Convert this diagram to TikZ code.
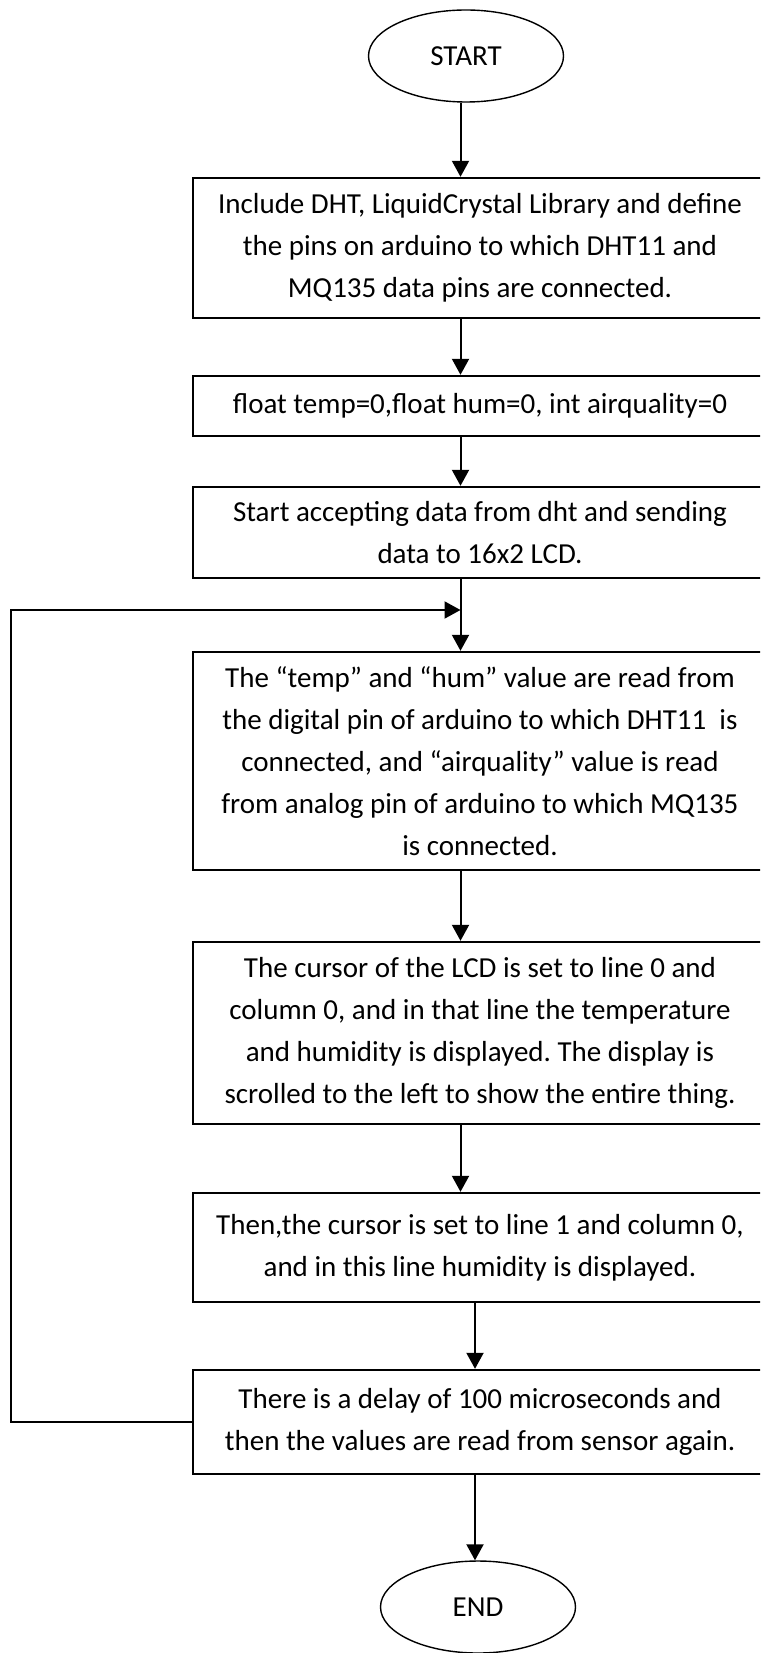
\documentclass[tikz,border=0pt]{standalone}
\usepackage{fontspec}
\setmainfont{Carlito}
\frenchspacing
\usetikzlibrary{arrows.meta,shapes.geometric}
\tikzset{
  stepbox/.style={draw,line width=1.2pt,minimum width=287pt,inner sep=0pt,align=center},
  terminal/.style={draw,ellipse,line width=0.7pt,minimum width=97.5pt,minimum height=46pt,inner sep=0pt},
  flow/.style={line width=1pt,-{Triangle[length=8pt,width=8.5pt]}}
}
\begin{document}
\begin{tikzpicture}[x=0.5pt,y=-0.5pt,font=\fontsize{14.5}{21}\selectfont]
        \clip (0,0) rectangle (760,1653);
        %% Terminals
        \node[terminal] (start) at (466,56)   {START};
        \node[terminal] (end)   at (478,1607) {END};
        %% Boxes
        \node[stepbox,minimum height=70pt]   (incl)  at (480,248)    {Include DHT, LiquidCrystal Library and define\\the pins on arduino to which DHT11 and\\MQ135 data pins are connected.};
        \node[stepbox,minimum height=30pt]   (vars)  at (480,406)    {float temp=0,float hum=0, int airquality=0};
        \node[stepbox,minimum height=45.5pt] (accept)at (480,532.5)  {Start accepting data from dht and sending\\data to 16x2 LCD.};
        \node[stepbox,minimum height=109pt]  (read)  at (480,761)    {The “temp” and “hum” value are read from\\the digital pin of arduino to which DHT11~ is\\connected, and “airquality” value is read\\from analog pin of arduino to which MQ135\\is connected.};
        \node[stepbox,minimum height=91pt]   (lineA) at (480,1033)   {The cursor of the LCD is set to line 0 and\\column 0, and in that line the temperature\\and humidity is displayed. The display is\\scrolled to the left to show the entire thing.};
        \node[stepbox,minimum height=54.5pt] (lineB) at (480,1247.5) {Then,the cursor is set to line 1 and column 0,\\and in this line humidity is displayed.};
        \node[stepbox,minimum height=52pt]   (delay) at (480,1422)   {There is a delay of 100 microseconds and\\then the values are read from sensor again.};
        %% Columns of the arrows
        \coordinate (colA) at (460.5,0);
        \coordinate (colB) at (475,0);
        \coordinate (loopleft) at (10.7,610);
        \coordinate (loopjoin) at (460.5,610);
        %% Arrows
        \draw[flow] (start.south -| colA) -- (incl.north -| colA);
        \draw[flow] (incl.south -| colA)  -- (vars.north -| colA);
        \draw[flow] (vars.south -| colA)  -- (accept.north -| colA);
        \draw[flow] (accept.south -| colA)-- (read.north -| colA);
        \draw[flow] (read.south -| colA)  -- (lineA.north -| colA);
        \draw[flow] (lineA.south -| colA) -- (lineB.north -| colA);
        \draw[flow] (lineB.south -| colB) -- (delay.north -| colB);
        \draw[flow] (delay.south -| colB) -- (end.north -| colB);
        %% Loop back
        \draw[flow] (delay.west) -| (loopleft) -- (loopjoin);
    \end{tikzpicture}
\end{document}
